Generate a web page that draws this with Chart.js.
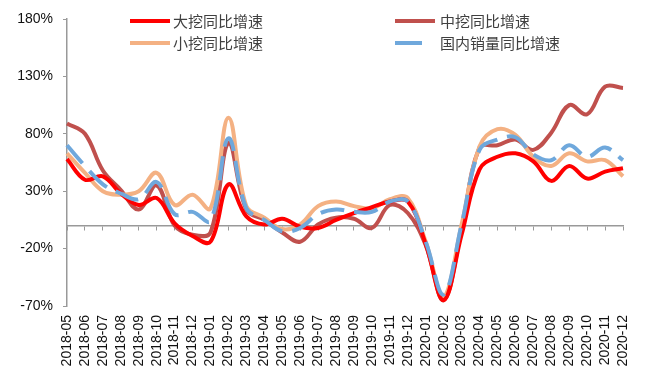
<!DOCTYPE html>
<html>
<head>
<meta charset="utf-8">
<script src="https://cdn.jsdelivr.net/npm/chart.js@4/dist/chart.umd.min.js"></script>
<style>
    body { margin: 0; background: #fff; }
    #wrap { width: 651px; height: 384px; position: relative; }
</style>
</head>
<body>
<div id="wrap"><canvas id="growthChart"></canvas></div>
<script>
// months on the x axis
const months = [
    '2018-05', '2018-06', '2018-07', '2018-08', '2018-09', '2018-10', '2018-11', '2018-12',
    '2019-01', '2019-02', '2019-03', '2019-04', '2019-05', '2019-06', '2019-07', '2019-08',
    '2019-09', '2019-10', '2019-11', '2019-12', '2020-01', '2020-02', '2020-03', '2020-04',
    '2020-05', '2020-06', '2020-07', '2020-08', '2020-09', '2020-10', '2020-11', '2020-12'
];

// yoy growth, %
const largeExc = [58, 40, 43, 28, 18, 24, 2, -9, -14, 36, 8, 1, 6, -1, -2, 5,
    11, 16, 21, 21, -16, -65, -8, 49, 60, 63, 56, 39, 52, 41, 47, 50];
const mediumExc = [89, 80, 48, 31, 14, 35, 0, -8, -6, 72, 14, 5, -6, -14, 1, 7,
    6, -2, 18, 11, -17, -65, -3, 68, 70, 75, 66, 81, 105, 97, 121, 120];
const smallExc = [63, 46, 30, 27, 30, 46, 18, 27, 15, 94, 17, 7, -3, 1, 17, 21,
    17, 15, 23, 24, -14, -62, 1, 69, 84, 79, 60, 52, 63, 56, 57, 43];
const domesticSales = [70, 52, 36, 28, 23, 38, 10, 12, 4, 76, 15, 5, -5, -2, 10, 14,
    12, 12, 21, 21, -14, -60, 1, 66, 75, 77, 62, 57, 70, 60, 68, 57];

const yTicks = [-70, -20, 30, 80, 130, 180];

const seriesNames = ['大挖同比增速', '中挖同比增速', '小挖同比增速', '国内销量同比增速'];
const seriesColors = ['#ff0000', '#c0504d', '#f4b183', '#6fa8dc'];

// legend sits inside the plot, two columns
const legendPlugin = {
    id: 'cornerLegend',
    afterDraw(chart) {
        const ctx = chart.ctx;
        const spots = [
            { x: 130, y: 21 }, { x: 395, y: 21 },
            { x: 130, y: 43 }, { x: 395, y: 43 }
        ];
        const order = [0, 1, 2, 3];
        ctx.save();
        order.forEach((idx, k) => {
            const ds = chart.data.datasets[idx];
            const p = spots[k];
            ctx.strokeStyle = ds.borderColor;
            ctx.lineWidth = 4;
            ctx.lineCap = 'butt';
            ctx.beginPath();
            if (ds.borderDash && ds.borderDash.length) {
                ctx.moveTo(p.x, p.y);
                ctx.lineTo(p.x + 27, p.y);
            } else {
                ctx.moveTo(p.x, p.y);
                ctx.lineTo(p.x + 40, p.y);
            }
            ctx.stroke();
            ctx.fillStyle = '#404040';
            ctx.font = '15px "Noto Sans CJK SC", sans-serif';
            ctx.textBaseline = 'middle';
            ctx.textAlign = 'left';
            ctx.fillText(ds.label, p.x + (k % 2 ? 45 : 43), p.y);
        });
        ctx.restore();
    }
};

function line(i, data, extra) {
    return Object.assign({
        label: seriesNames[i],
        data: data,
        borderColor: seriesColors[i],
        backgroundColor: seriesColors[i],
        borderWidth: 4,
        pointRadius: 0,
        tension: 0.38,
        fill: false,
        xAxisID: 'x',
        yAxisID: 'y'
    }, extra);
}

new Chart(document.getElementById('growthChart'), {
    type: 'line',
    data: {
        labels: months,
        datasets: [
            line(0, largeExc, { order: 2 }),
            line(1, mediumExc, { order: 4 }),
            line(2, smallExc, { order: 3 }),
            line(3, domesticSales, { order: 1, borderDash: [24, 10] })
        ]
    },
    options: {
        responsive: true,
        maintainAspectRatio: false,
        animation: false,
        layout: { padding: { top: 19, right: 28, bottom: 0, left: 0 } },
        plugins: {
            legend: { display: false },
            tooltip: { enabled: false }
        },
        scales: {
            x: {
                type: 'category',
                position: 'bottom',
                offset: false,
                grid: { display: false, drawTicks: false },
                border: { display: false },
                ticks: {
                    autoSkip: false,
                    minRotation: 90,
                    maxRotation: 90,
                    padding: 9,
                    color: '#111',
                    font: { family: '"Liberation Sans", Arial, sans-serif', size: 14 }
                },
                afterFit: s => { s.height = 78; }
            },
            x2: {
                type: 'category',
                axis: 'x',
                position: { y: 0 },
                offset: false,
                ticks: { display: false },
                grid: { drawOnChartArea: false, drawTicks: true, tickLength: 4, color: '#999', lineWidth: 1 },
                border: { color: '#999', width: 1.5 }
            },
            y: {
                min: -70,
                max: 180,
                afterBuildTicks: s => { s.ticks = yTicks.map(v => ({ value: v })); },
                grid: { drawOnChartArea: false, drawTicks: true, tickLength: 4, color: '#999' },
                border: { color: '#999', width: 1.5 },
                ticks: {
                    padding: 10,
                    color: '#111',
                    font: { family: '"Liberation Sans", Arial, sans-serif', size: 14 },
                    callback: v => v + '%'
                },
                afterFit: s => { s.width = 67; }
            }
        }
    },
    plugins: [legendPlugin]
});
</script>
</body>
</html>
